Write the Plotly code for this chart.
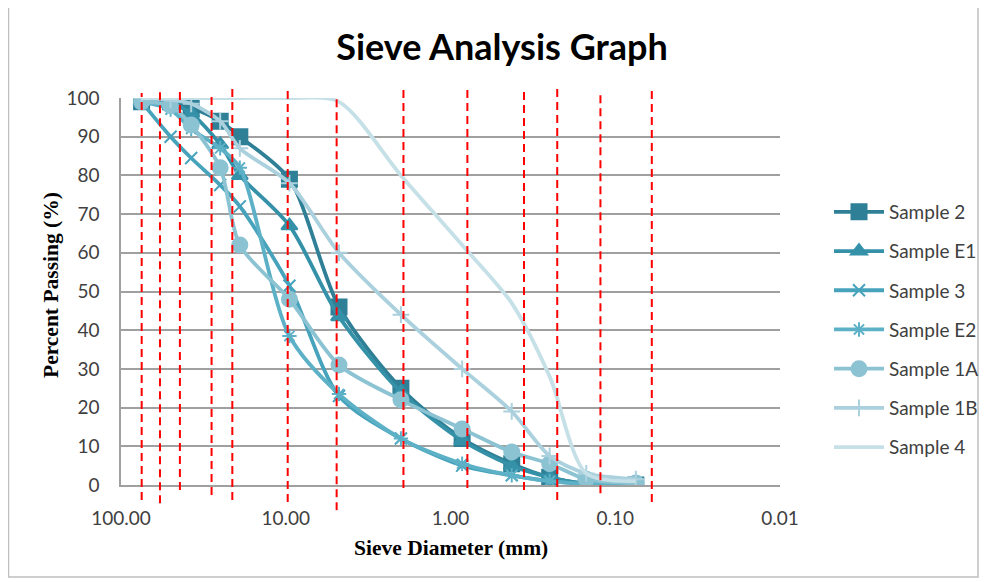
import plotly.graph_objects as go

# ---------------- data ----------------
sieve_mm = [75, 50, 37.5, 25, 19, 9.5, 4.75, 2.0, 0.85, 0.425, 0.25, 0.15, 0.075]

sample_names = ["Sample 2", "Sample E1", "Sample 3", "Sample E2", "Sample 1A", "Sample 1B", "Sample 4"]
sample_2 = [99, 99, 97.5, 94, 90, 79, 46, 25, 12, 5.5, 2, 0.3, 0]
sample_e1 = [99, 98.5, 96, 88, 80, 67, 43.5, 24, 11.5, 5, 2, 0.3, 0]
sample_3 = [99, 90, 84.5, 77.5, 72, 51.5, 23, 12, 5, 2.5, 1, 0.3, 0]
sample_e2 = [99, 97, 92, 87, 82, 38.5, 23.5, 12, 5.5, 2.5, 1, 0.3, 0]
sample_1a = [99, 98, 93, 82, 62, 48, 31, 22, 14.5, 8.5, 5.5, 1.5, 0.5]
sample_1b = [100, 99.5, 98.5, 94, 87, 78, 60, 44, 30, 19, 7.5, 3, 1.5]
sample_4 = [100, 100, 100, 100, 100, 100, 99, 80, 62, 47, 28, 3, 1]
sample_values = [sample_2, sample_e1, sample_3, sample_e2, sample_1a, sample_1b, sample_4]

x_tick_vals = [100, 10, 1, 0.1, 0.01]
x_tick_text = ["100.00", "10.00", "1.00", "0.10", "0.01"]
y_tick_vals = [0, 10, 20, 30, 40, 50, 60, 70, 80, 90, 100]

# hand-drawn red dashed guide lines (mm) with their top / bottom ends (paper units)
guide_mm = [74.9, 58.0, 43.9, 28.2, 21.1, 9.73, 4.91, 1.93, 0.79, 0.358, 0.225, 0.123, 0.060]
guide_top = [1.013, 1.026, 1.024, 1.013, 1.034, 1.028, 1.008, 1.028, 1.028, 1.021, 1.034, 1.013, 1.028]
guide_bottom = [-0.039, -0.047, -0.013, -0.026, -0.039, -0.044, -0.065, -0.008, -0.008, -0.013, -0.039, -0.021, -0.044]

# ---------------- styles ----------------
colors = ["#2F8097", "#3591A8", "#47A3BC", "#5CB1C7", "#8CC3D3", "#AAD1DD", "#C6E0E8"]
symbols = ["square", "triangle-up", "x-thin", "asterisk", "circle", "cross-thin", None]
sizes = [15, 14, 12, 12, 15, 12, 0]

# page body has an 8px margin, so figure coordinates = screen coordinates - 8
OFF = 8
W, H = 987 - OFF, 582 - OFF
L, R, T, B = 121 - OFF, 780 - OFF, 98 - OFF, 485 - OFF
PW, PH = R - L, B - T


def px(sx):
    return (sx - OFF - L) / PW


def py(sy):
    return (B - (sy - OFF)) / PH


fig = go.Figure()
for name, vals, col, sym, sz in zip(sample_names, sample_values, colors, symbols, sizes):
    if sym is None:
        mode = "lines"
        marker = None
    else:
        mode = "lines+markers"
        marker = dict(symbol=sym, size=sz, color=col, line=dict(color=col, width=2))
    fig.add_trace(go.Scatter(
        x=sieve_mm, y=vals, name=name, mode=mode, marker=marker,
        line=dict(color=col, width=3.8, shape="spline", smoothing=0.8),
        legendgroup=name,
    ))

shapes = []
for gx, gt, gb in zip(guide_mm, guide_top, guide_bottom):
    shapes.append(dict(type="line", xref="x", yref="paper", x0=gx, x1=gx, y0=gb, y1=gt,
                       line=dict(color="#FF0000", width=2, dash="8px,5px"), layer="above"))
# outer chart border (top edge is outside the captured area)
bx0, bx1, by0, by1 = px(8.5), px(978), py(577), py(8)
shapes.append(dict(type="path", xref="paper", yref="paper",
                   path=f"M {bx0},{by1} L {bx0},{by0} L {bx1},{by0} L {bx1},{by1}",
                   line=dict(color="#BFBFBF", width=1.5), layer="below"))

annotations = [
    dict(text="<b>Percent Passing (%)</b>", xref="paper", yref="paper",
         x=px(51), y=py(285), xanchor="center", yanchor="middle",
         textangle=-90, showarrow=False,
         font=dict(family="Liberation Serif", size=21.5, color="#000000")),
    dict(text="<b>Sieve Diameter (mm)</b>", xref="paper", yref="paper",
         x=px(451), y=py(548), xanchor="center", yanchor="middle",
         showarrow=False,
         font=dict(family="Liberation Serif", size=21.5, color="#000000")),
]

fig.update_layout(
    width=W, height=H,
    margin=dict(l=L, r=W - R, t=T, b=H - B, autoexpand=False),
    paper_bgcolor="white", plot_bgcolor="white",
    title=dict(text="<b>Sieve Analysis Graph</b>", x=(502 - OFF) / W, xref="container", xanchor="center",
               y=1 - (47 - OFF) / H, yref="container", yanchor="middle",
               font=dict(family="Lato", size=36, color="#000000")),
    font=dict(family="Lato", size=19, color="#404040"),
    showlegend=True,
    legend=dict(x=px(829), xanchor="left", y=py(193), yanchor="top",
                font=dict(family="Lato", size=19, color="#404040"),
                tracegroupgap=11.5, itemwidth=50, bgcolor="rgba(0,0,0,0)"),
    shapes=shapes,
    annotations=annotations,
)

fig.update_xaxes(
    type="log", range=[2, -2], tickvals=x_tick_vals, ticktext=x_tick_text,
    showgrid=False, showline=True, linecolor="#A0A0A0", linewidth=1.5,
    ticks="", ticklabelstandoff=15, zeroline=False, automargin=False,
)
fig.update_yaxes(
    range=[0, 100], tickvals=y_tick_vals,
    showgrid=True, gridcolor="#A0A0A0", gridwidth=1.5,
    showline=True, linecolor="#A0A0A0", linewidth=1.5,
    ticks="", ticklabelstandoff=16, zeroline=False, automargin=False,
)

fig.write_html("out.html")
